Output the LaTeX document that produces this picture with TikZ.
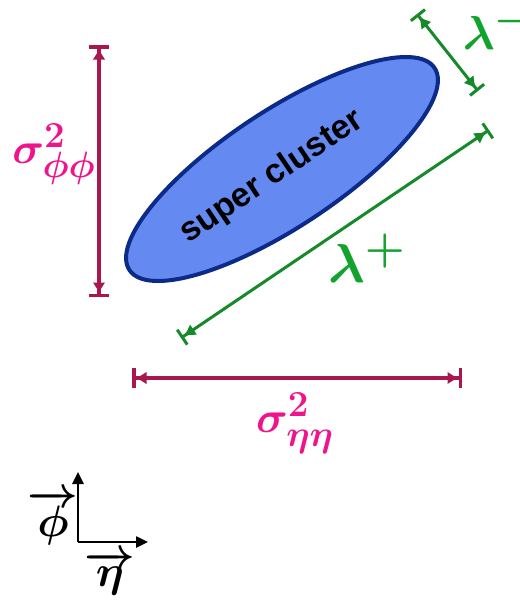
\documentclass[tikz,border=0pt]{standalone}
\usepackage{fontspec}
\setsansfont{Liberation Sans}
\usetikzlibrary{arrows.meta,shapes.geometric,positioning}
\definecolor{dimred}{HTML}{A8174F}
\definecolor{labpink}{HTML}{F0148C}
\definecolor{dimgreen}{HTML}{168A2A}
\definecolor{labgreen}{HTML}{12A32C}
\definecolor{blobfill}{HTML}{6489F0}
\definecolor{blobedge}{HTML}{0C2A88}
\tikzset{
  scblob/.style={draw=blobedge, fill=blobfill, ellipse, line width=4pt, inner sep=0pt},
  sctext/.style={inner sep=0pt, font=\sffamily\bfseries\fontsize{34}{38}\selectfont},
  scdim/.style={line width=3.5pt, draw=dimred, {Bar[width=20pt]Latex[length=11pt,width=13pt]}-{Latex[length=11pt,width=13pt]Bar[width=20pt]}},
  scdimg/.style={line width=3pt, draw=dimgreen, {Bar[width=18pt]Latex[length=12pt,width=13pt]}-{Latex[length=12pt,width=13pt]Bar[width=18pt]}},
  scsigma/.style={text=labpink, inner sep=0pt, font=\boldmath\Huge, scale=1.77, transform shape},
  sclambda/.style={text=labgreen, inner sep=0pt, font=\boldmath\Huge, scale=2.2, transform shape},
  scaxis/.style={line width=2.5pt, -{Triangle[length=12pt,width=11pt]}},
  scvec/.style={inner sep=0pt, font=\boldmath\Huge, scale=1.77, transform shape}
}
\begin{document}
\begin{tikzpicture}[x=1pt,y=-1pt]
\useasboundingbox (0,0) rectangle (520,606);

% the cluster
\node[scblob, minimum width=366pt, minimum height=116pt, rotate=33.5] (blob) at (282,169) {};
\node[sctext, rotate=34] (blobtext) at (272,177) {super cluster};

% widths in phi and eta
\coordinate (phitop) at (99,45);
\coordinate (phibot) at (99,297);
\coordinate (etaleft) at (132,378);
\coordinate (etaright) at (462,378);
\draw[scdim] (phitop) -- (phibot);
\draw[scdim] (etaleft) -- (etaright);
\node[scsigma] (sigphi) at (54,154) {$\sigma^2_{\phi\phi}$};
\node[scsigma] (sigeta) at (295,423) {$\sigma^2_{\eta\eta}$};

% main axes
\coordinate (lpa) at (181,338);
\coordinate (lpb) at (489,130);
\coordinate (lma) at (417,14);
\coordinate (lmb) at (478,91);
\draw[scdimg] (lpa) -- (lpb);
\draw[scdimg] (lma) -- (lmb);
\node[sclambda] (lamplus) at (367,258) {$\lambda^+$};
\node[sclambda, scale=0.87] (lamminus) at (497,28) {$\lambda^-$};

% eta-phi frame
\coordinate (orig) at (78,542);
\coordinate (phiax) at (78,472);
\coordinate (etaax) at (148,542);
\draw[scaxis] (orig) -- (phiax);
\draw[scaxis] (orig) -- (etaax);
\node[scvec] (phivec) at (53,518) {$\overrightarrow{\phi}$};
\node[scvec] (etavec) at (110,573) {$\overrightarrow{\eta}$};
\end{tikzpicture}
\end{document}
